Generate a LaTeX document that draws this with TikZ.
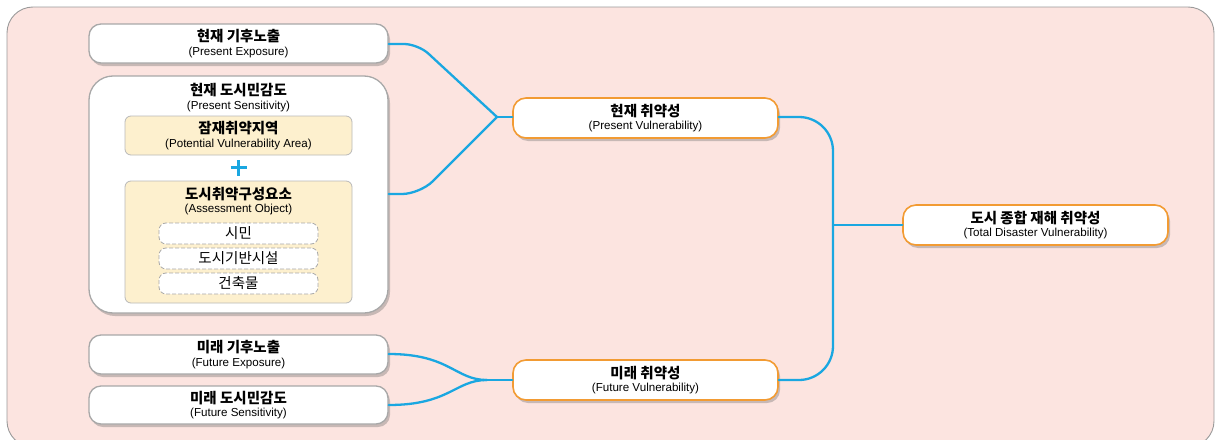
\documentclass[tikz,border=0pt]{standalone}
\usepackage{fontspec}
\setmainfont{Noto Sans CJK KR}
\newfontfamily\latn{Liberation Sans}
\usetikzlibrary{shadows}
\definecolor{bgpink}{HTML}{FCE4E0}
\definecolor{bgline}{HTML}{9A9A9A}
\definecolor{boxline}{HTML}{A8A8A8}
\definecolor{ylw}{HTML}{FDF0CE}
\definecolor{cyanline}{HTML}{1AA7E1}
\definecolor{orng}{HTML}{F29B33}
\newcommand{\kt}[1]{{\fontsize{14.5}{13.5}\selectfont\bfseries #1}}
\newcommand{\et}[1]{{\latn\fontsize{11.6}{13.5}\selectfont #1}}
\tikzset{
  x=1pt,y=-1pt,
  every node/.style={font=\fontsize{10}{13.5}\selectfont},
  shd/.style={drop shadow={shadow xshift=2pt,shadow yshift=-3pt,opacity=0.35,fill=black!60}},
  wbox/.style={draw=boxline,line width=1.3pt,fill=white,rounded corners=12pt,minimum width=299pt,minimum height=39pt,inner sep=0pt,align=center,shd},
  obox/.style={draw=orng,line width=1.6pt,fill=white,rounded corners=13pt,minimum width=265pt,minimum height=40pt,inner sep=0pt,align=center,shd},
  ybox/.style={draw=boxline!80,line width=0.8pt,fill=ylw,rounded corners=6pt,minimum width=227pt,inner sep=0pt},
  dbox/.style={draw=boxline,line width=0.8pt,dash pattern=on 4pt off 2pt,fill=white,rounded corners=7pt,minimum width=159pt,minimum height=21pt,inner sep=0pt,font=\fontsize{14.5}{15}\selectfont},
  conn/.style={draw=cyanline,line width=2.3pt,line cap=round},
}
\begin{document}
\begin{tikzpicture}
\useasboundingbox (0,0) rectangle (1215,439);
\node[draw=bgline,line width=0.9pt,fill=bgpink,rounded corners=26pt,minimum width=1207pt,minimum height=440pt,inner sep=0pt] (bg) at (610.5,227) {};

% present exposure
\node[wbox] (pe) at (238.5,43.5) {\kt{현재 기후노출}\\\et{(Present Exposure)}};
% present sensitivity container
\node[wbox,rounded corners=24pt,minimum height=237pt] (ps) at (238.5,194.5) {};
\node[inner sep=0pt,align=center] (pst) at (238.5,97.5) {\kt{현재 도시민감도}\\\et{(Present Sensitivity)}};
\node[ybox,minimum height=39pt,align=center] (pva) at (238.5,135.5) {\kt{잠재취약지역}\\\et{(Potential Vulnerability Area)}};
\coordinate (plus) at (238.5,167.5);
\draw[cyanline,line width=3.6pt] ([xshift=-8pt]plus) -- ([xshift=8pt]plus) ([yshift=-8pt]plus) -- ([yshift=8pt]plus);
\node[ybox,minimum height=122pt] (ao) at (238.5,242) {};
\node[inner sep=0pt,align=center] (aot) at (238.5,201) {\kt{도시취약구성요소}\\\et{(Assessment Object)}};
\node[dbox] (d1) at (238.5,233.5) {시민};
\node[dbox] (d2) at (238.5,258.5) {도시기반시설};
\node[dbox] (d3) at (238.5,283.5) {건축물};

% future
\node[wbox] (fe) at (238.5,354.5) {\kt{미래 기후노출}\\\et{(Future Exposure)}};
\node[wbox,minimum height=38pt] (fs) at (238.5,405) {\kt{미래 도시민감도}\\\et{(Future Sensitivity)}};

% vulnerability
\node[obox] (pv) at (645.5,118) {\kt{현재 취약성}\\\et{(Present Vulnerability)}};
\node[obox] (fv) at (645.5,380) {\kt{미래 취약성}\\\et{(Future Vulnerability)}};
\node[obox] (tot) at (1035.5,225) {\kt{도시 종합 재해 취약성}\\\et{(Total Disaster Vulnerability)}};

% connectors
\coordinate (j1) at (497,117);
\coordinate (j2) at (487,380);
\coordinate (r1) at (833,117);
\coordinate (r2) at (833,380);
\coordinate (rm) at (833,225);
\draw[conn,rounded corners=14pt] (pe.east |- 0,44) -- (418,44) -- (j1);
\draw[conn,rounded corners=18pt] (ps.east |- 0,194) -- (420,194) -- (j1);
\draw[conn] (j1) -- (pv.west |- j1);
\draw[conn] (fe.east |- 0,354) .. controls (450,354) and (455,380) .. (j2);
\draw[conn] (fs.east |- 0,405) .. controls (450,405) and (455,380) .. (j2);
\draw[conn] (j2) -- (fv.west);
\draw[conn,rounded corners=34pt] (pv.east |- r1) -- (r1) -- (r2) -- (fv.east);
\draw[conn] (rm) -- (tot.west);
\end{tikzpicture}
\end{document}
